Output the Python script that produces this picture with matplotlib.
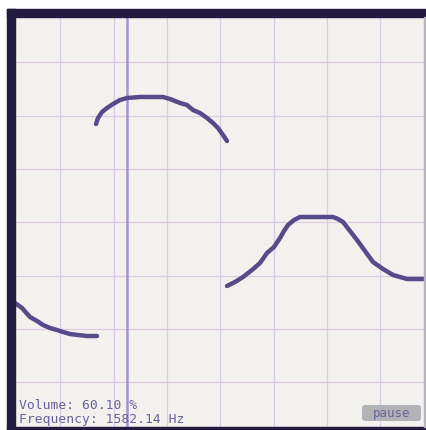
import matplotlib
matplotlib.use('Agg')
import matplotlib.pyplot as plt
from matplotlib.patches import Rectangle, FancyBboxPatch
import numpy as np

# strokes (canvas pixel coordinates, y down)
stroke1_x = [15, 22, 30, 37, 43, 50, 57, 63, 70, 78, 87, 97]
stroke1_y = [303, 308, 317, 321, 325, 328, 330, 332, 334, 335, 336, 336]

stroke2_x = [96, 98, 102, 107, 113, 120, 127, 140, 152, 163, 170, 180, 187, 193, 200, 207, 213, 218, 223, 227]
stroke2_y = [124, 118, 112, 108, 104, 100, 98, 97, 97, 97, 99, 103, 105, 110, 113, 118, 123, 128, 135, 141]

stroke3_x = [227, 235, 243, 252, 260, 267, 274, 280, 284, 288, 294, 300, 312, 325, 333, 338, 343, 350, 357, 365, 373, 383, 393, 400, 407, 416, 426]
stroke3_y = [286, 282, 277, 270, 263, 253, 247, 238, 231, 225, 220, 217, 217, 217, 217, 219, 222, 231, 240, 251, 262, 269, 275, 277, 279, 279, 279]

playhead_x = 126.5
volume = 60.10
frequency = 1582.14

W, H = 426, 430
fig = plt.figure(figsize=(W / 100, H / 100), dpi=100)
fig.patch.set_facecolor('white')

# canvas area in figure pixels
cx0, cx1, cy0, cy1 = 7, 425, 9, 427
ax = fig.add_axes([cx0 / W, 1 - cy1 / H, (cx1 - cx0) / W, (cy1 - cy0) / H])
ax.set_facecolor('#f2f1ed')
ax.set_xlim(cx0, cx1)
ax.set_ylim(cy1, cy0)
for s in ax.spines.values():
    s.set_visible(False)
ax.set_xticks([])
ax.set_yticks([])

cell = 53.3
for gx in np.arange(cx0 + cell, cx1, cell):
    ax.axvline(gx, color='#dccbe5', lw=0.9, zorder=1)
for gy in np.arange(cy0 + cell, cy1, cell):
    ax.axhline(gy, color='#dccbe5', lw=0.9, zorder=1)

ax.axvline(playhead_x, color='#a592d2', lw=1.8, zorder=2)

for xs, ys in [(stroke1_x, stroke1_y), (stroke2_x, stroke2_y), (stroke3_x, stroke3_y)]:
    ax.plot(xs, ys, color='#564a8a', lw=3.2, solid_capstyle='round',
            solid_joinstyle='round', zorder=3)

txt = dict(family='DejaVu Sans Mono', fontsize=9.4, color='#6a609c', zorder=5)
ax.text(19, 409, 'Volume: %.2f %%' % volume, va='baseline', **txt)
ax.text(19, 423, 'Frequency: %.2f Hz' % frequency, va='baseline', **txt)

btn = FancyBboxPatch((362, 405), 59, 16, boxstyle='round,pad=0,rounding_size=3',
                     facecolor='#a6a9ad', edgecolor='none', alpha=0.85, zorder=4)
ax.add_patch(btn)
ax.text(391.5, 413.5, 'pause', ha='center', va='center',
        family='DejaVu Sans Mono', fontsize=9, color='#6c629e', zorder=5)

# dark frame (top, left, bottom) and thin right edge, in figure pixels
dark = '#231a42'
def frect(x, y, w, h, c):
    fig.patches.append(Rectangle((x / W, 1 - (y + h) / H), w / W, h / H,
                                 transform=fig.transFigure, color=c, zorder=10))
frect(7, 9, 419, 8, dark)
frect(7, 9, 8, 421, dark)
frect(7, 427, 419, 3, dark)
frect(424, 17, 1.2, 410, '#b9b6bf')

fig.savefig('out.png', dpi=100)
